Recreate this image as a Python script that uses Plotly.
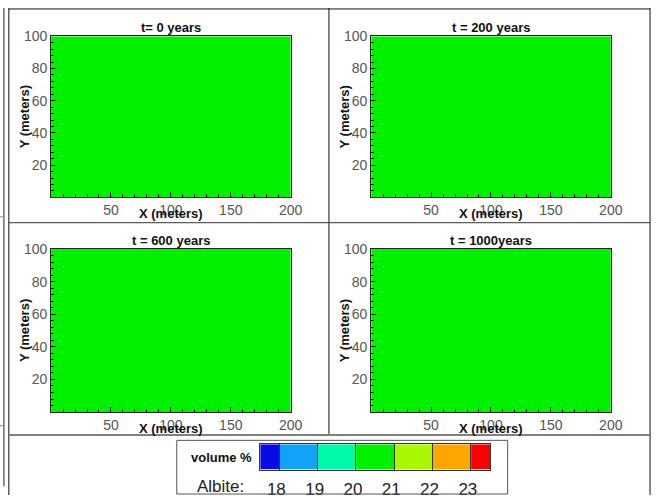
import numpy as np
import plotly.graph_objects as go

# ---- data ----
panel_titles = ["t= 0 years", "t = 200 years", "t = 600 years", "t = 1000years"]
albite_field = [20.5, 20.5, 20.5, 20.5]          # uniform albite volume % in each panel
x_centers = list(np.arange(5, 200, 10))            # cell centres (m)
y_centers = list(np.arange(5, 100, 10))
x_ticks = [50, 100, 150, 200]
y_ticks = [20, 40, 60, 80, 100]
level_edges = [17.5, 18, 19, 20, 21, 22, 23, 23.5]
level_colors = ["#0a0ae6", "#12a2f8", "#00f8aa", "#00f000", "#aaf800", "#ffa500", "#fa0000"]
level_labels = [18, 19, 20, 21, 22, 23]

W, H = 665, 499
FONT = "Liberation Sans, Arial, sans-serif"

def px(x):
    return x / W

def py(y):
    return 1 - y / H

# discrete colorscale
zmin, zmax = level_edges[0], level_edges[-1]
cs = []
for i, c in enumerate(level_colors):
    a = (level_edges[i] - zmin) / (zmax - zmin)
    b = (level_edges[i + 1] - zmin) / (zmax - zmin)
    cs.append([a, c])
    cs.append([b, c])

fig = go.Figure()

# panel plot areas in pixels (left, right, top, bottom)
panels = [(52, 296, 29, 194), (378, 622, 29, 194), (52, 296, 247, 414), (378, 622, 247, 414)]

annotations = []
for i, (l, r, t, b) in enumerate(panels):
    k = "" if i == 0 else str(i + 1)
    z = [[albite_field[i]] * len(x_centers) for _ in y_centers]
    fig.add_trace(go.Heatmap(x=x_centers, y=y_centers, z=z, colorscale=cs, zmin=zmin, zmax=zmax,
                             showscale=False, xaxis="x" + k, yaxis="y" + k, hoverinfo="skip"))
    common = dict(showgrid=False, zeroline=False, showline=True, linecolor="#222", linewidth=1,
                  mirror=True, ticks="inside", tickcolor="#111", ticklen=5,
                  tickfont=dict(family=FONT, size=14, color="#555"))
    fig.layout["xaxis" + k] = dict(domain=[px(l), px(r)], range=[0, 200], anchor="y" + k,
                                  tickvals=x_ticks, minor=dict(dtick=10, ticks="inside", ticklen=3, tickcolor="#111"),
                                  ticklabelstandoff=0, **common)
    fig.layout["yaxis" + k] = dict(domain=[py(b), py(t)], range=[0, 100], anchor="x" + k,
                                  tickvals=y_ticks, minor=dict(dtick=4, ticks="inside", ticklen=3, tickcolor="#111"),
                                  ticklabelstandoff=0, **common)
    cx = (l + r) / 2
    cy = (t + b) / 2
    annotations.append(dict(text="<b>%s</b>" % panel_titles[i], x=px(cx), y=py(t - 9), xref="paper", yref="paper",
                            showarrow=False, xanchor="center", yanchor="middle",
                            font=dict(family=FONT, size=13, color="#111")))
    annotations.append(dict(text="<b>X (meters)</b>", x=px(cx), y=py(b + 17), xref="paper", yref="paper",
                            showarrow=False, xanchor="center", yanchor="middle",
                            font=dict(family=FONT, size=13, color="#111")))
    annotations.append(dict(text="<b>Y (meters)</b>", x=px(l - 27), y=py(cy), xref="paper", yref="paper",
                            showarrow=False, xanchor="center", yanchor="middle", textangle=-90,
                            font=dict(family=FONT, size=13, color="#111")))

# legend colour bar as its own subplot
mids = [(level_edges[i] + level_edges[i + 1]) / 2 for i in range(len(level_colors))]
fig.add_trace(go.Heatmap(x=level_edges, y=[0, 1], z=[mids], colorscale=cs, zmin=zmin, zmax=zmax,
                         showscale=False, xaxis="x5", yaxis="y5", hoverinfo="skip"))
fig.layout["xaxis5"] = dict(domain=[px(265), px(499)], range=[zmin, zmax], anchor="y5",
                            showgrid=False, zeroline=False, showline=True, mirror=True, linecolor="#333",
                            ticks="inside", ticklen=26, tickcolor="#333", tickvals=level_labels,
                            ticktext=[str(v) for v in level_labels], ticklabelshift=-3, ticklabelstandoff=4,
                            tickfont=dict(family=FONT, size=17, color="#222"))
fig.layout["yaxis5"] = dict(domain=[py(473), py(447)], range=[0, 1], anchor="x5", showgrid=False,
                            zeroline=False, showline=True, mirror=True, linecolor="#333", showticklabels=False)

annotations.append(dict(text="<b>volume %</b>", x=px(226), y=py(461), xref="paper", yref="paper",
                        showarrow=False, xanchor="center", yanchor="middle",
                        font=dict(family=FONT, size=13, color="#111")))
annotations.append(dict(text="Albite:", x=px(225), y=py(490), xref="paper", yref="paper",
                        showarrow=False, xanchor="center", yanchor="middle",
                        font=dict(family=FONT, size=17, color="#222")))

def line(x0, y0, x1, y1, color="#111", width=1):
    return dict(type="line", xref="paper", yref="paper", x0=px(x0), y0=py(y0), x1=px(x1), y1=py(y1),
                line=dict(color=color, width=width))

shapes = [
    line(9, 1, 662, 1),
    line(9, 0, 9, 499),
    line(662, 0, 662, 499),
    line(335, 0, 335, 437),
    line(9, 220, 662, 220, "#333"),
    line(9, 437.5, 662, 437.5, "#808080", 2),
    line(4, 0, 4, 490, "#222"),
    line(0, 214, 4, 214, "#888"),
    line(0, 428, 4, 428, "#888"),
    dict(type="rect", xref="paper", yref="paper", x0=px(180), y0=py(498), x1=px(517), y1=py(443),
         line=dict(color="#555", width=1)),
]

fig.update_layout(width=W, height=H, margin=dict(l=0, r=0, t=0, b=0),
                  paper_bgcolor="white", plot_bgcolor="white", showlegend=False,
                  annotations=annotations, shapes=shapes)

fig.write_html("out.html")
